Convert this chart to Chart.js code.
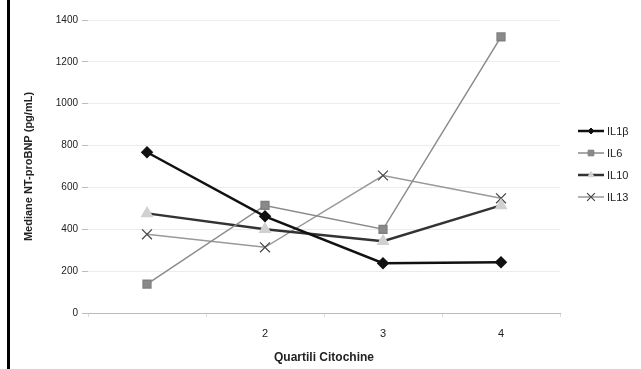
<!DOCTYPE html>
<html>
<head>
<meta charset="utf-8">
<script src="https://cdn.jsdelivr.net/npm/chart.js@4"></script>
<style>
  body { margin: 0; background: #fff; }
  #wrap { position: relative; width: 641px; height: 369px; }
  #edge { position: absolute; left: 7px; top: 0; width: 3px; height: 369px; background: #000; }
</style>
</head>
<body>
<div id="wrap">
  <canvas id="chart" width="641" height="369"></canvas>
  <div id="edge"></div>
</div>
<script>
// quartili delle citochine
let categories = ['1', '2', '3', '4'];
let il1b = [768, 462, 238, 243];
let il6 = [138, 514, 400, 1319];
let il10 = [476, 400, 343, 514];
let il13 = [376, 314, 657, 548];
let seriesNames = ['IL1\u03b2', 'IL6', 'IL10', 'IL13'];

// legenda disegnata a mano: linea + marker come in Excel
const sideLegend = {
  id: 'sideLegend',
  afterDraw(chart) {
    const ctx = chart.ctx;
    let y = 131;
    chart.data.datasets.forEach(function(ds) {
      ctx.save();
      ctx.strokeStyle = ds.borderColor;
      ctx.lineWidth = ds.borderWidth;
      ctx.beginPath();
      ctx.moveTo(578, y);
      ctx.lineTo(604, y);
      ctx.stroke();
      ctx.fillStyle = ds.pointBackgroundColor;
      ctx.strokeStyle = ds.pointBorderColor;
      ctx.lineWidth = ds.pointBorderWidth || 1;
      Chart.helpers.drawPoint(ctx, {
        pointStyle: ds.pointStyle,
        radius: ds.pointRadius - 1.5,
        borderWidth: ds.pointBorderWidth || 1
      }, 591, y);
      ctx.fillStyle = '#222';
      ctx.font = '11px "Liberation Sans", Arial, sans-serif';
      ctx.textBaseline = 'middle';
      ctx.fillText(ds.label, 607, y + 1);
      ctx.restore();
      y += 22;
    });
  }
};

document.addEventListener('DOMContentLoaded', function() {
  var ctx = document.getElementById('chart').getContext('2d');
  var myChart = new Chart(ctx, {
    type: 'line',
    data: {
      labels: categories,
      datasets: [
        {
          label: seriesNames[0],
          data: il1b,
          borderColor: '#111',
          backgroundColor: '#111',
          borderWidth: 2.5,
          pointStyle: 'rectRot',
          pointRadius: 4.5,
          pointBorderColor: '#111',
          pointBackgroundColor: '#111'
        },
        {
          label: seriesNames[1],
          data: il6,
          borderColor: '#8a8a8a',
          backgroundColor: '#8a8a8a',
          borderWidth: 1.5,
          pointStyle: 'rect',
          pointRadius: 5.5,
          pointBorderColor: '#808080',
          pointBackgroundColor: '#8a8a8a'
        },
        {
          label: seriesNames[2],
          data: il10,
          borderColor: '#333',
          backgroundColor: '#333',
          borderWidth: 2.5,
          pointStyle: 'triangle',
          pointRadius: 5,
          pointBorderColor: '#d0d0d0',
          pointBackgroundColor: '#d0d0d0'
        },
        {
          label: seriesNames[3],
          data: il13,
          borderColor: '#999',
          backgroundColor: '#999',
          borderWidth: 1.5,
          pointStyle: 'crossRot',
          pointRadius: 7,
          pointBorderWidth: 1.2,
          pointBorderColor: '#444',
          pointBackgroundColor: '#444'
        }
      ]
    },
    options: {
      responsive: false,
      animation: false,
      layout: { padding: { left: 18, right: 81, top: 20, bottom: 0 } },
      plugins: {
        legend: { display: false },
        tooltip: { enabled: false }
      },
      scales: {
        x: {
          offset: true,
          afterFit: function(s) { s.height = 56; },
          grid: { display: true, drawOnChartArea: false, offset: true, tickLength: 4, color: '#ddd' },
          border: { color: '#bbb', width: 1 },
          ticks: {
            color: '#222',
            font: { family: '"Liberation Sans", Arial', size: 11 },
            padding: 10,
            callback: function(v, i) { return i === 0 ? '' : categories[i]; }
          },
          title: {
            display: true,
            text: 'Quartili Citochine',
            color: '#222',
            font: { family: '"Liberation Sans", Arial', size: 12, weight: 'bold' },
            padding: { top: 0 }
          }
        },
        y: {
          min: 0,
          max: 1400,
          afterFit: function(s) { s.width = 70; },
          grid: { color: '#ececec', tickColor: '#bbb', tickLength: 6, borderDash: [14, 14] },
          border: { display: false },
          ticks: {
            stepSize: 200,
            color: '#222',
            font: { family: '"Liberation Sans", Arial', size: 10 },
            padding: 4,
            callback: function(v) { return String(v); }
          },
          title: {
            display: true,
            text: 'Mediane NT-proBNP (pg/mL)',
            color: '#222',
            font: { family: '"Liberation Sans", Arial', size: 11, weight: 'bold' },
            padding: { bottom: 4 }
          }
        }
      }
    },
    plugins: [sideLegend]
  });
});
</script>
</body>
</html>
